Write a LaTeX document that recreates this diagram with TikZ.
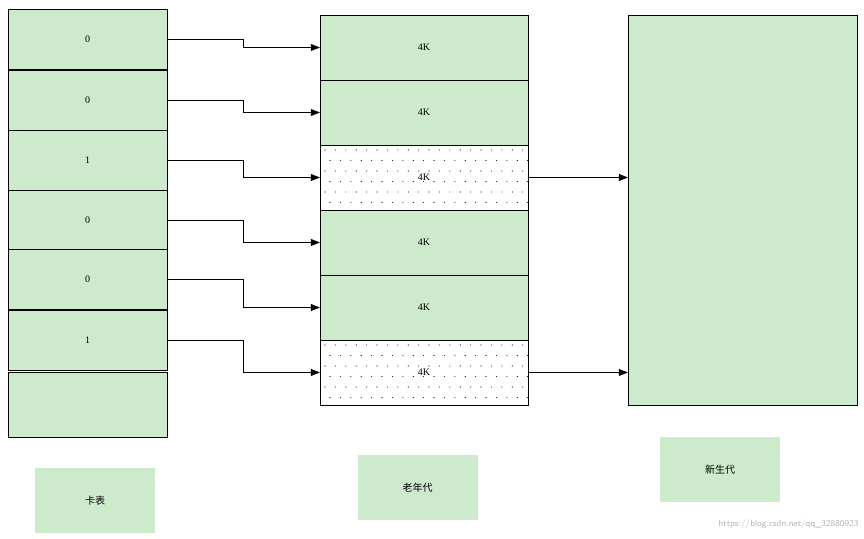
\documentclass[tikz,border=0pt]{standalone}
\usepackage{fontspec}
\setmainfont{Liberation Serif}
\newfontfamily\cjk{Noto Sans CJK SC}
\usetikzlibrary{positioning,arrows.meta}
\definecolor{cardgreen}{HTML}{CDEBCC}

\begin{document}
\begin{tikzpicture}[x=1pt,y=-1pt,
  cell/.style={draw,fill=cardgreen,minimum width=159pt,minimum height=60pt,inner sep=0pt},
  page/.style={draw,fill=cardgreen,minimum width=208pt,minimum height=65pt,inner sep=0pt},
  tag/.style={fill=cardgreen,minimum width=120pt,minimum height=65pt,inner sep=0pt,font=\cjk},
  link/.style={-{Triangle[length=9pt,width=7pt]}}]
\useasboundingbox (0,0) rectangle (864,538);
%================================================================
%	Card table
\node[cell] (c1) at (87.5,39) {0};
\node[cell] (c2) at (87.5,100) {0};
\node[cell] (c3) at (87.5,160) {1};
\node[cell] (c4) at (87.5,220) {0};
\node[cell] (c5) at (87.5,279) {0};
\node[cell] (c6) at (87.5,340) {1};
\node[cell,minimum height=65pt] (c7) at (87.5,404.5) {};
%================================================================
%	Old generation
\foreach \i/\y in {1/47.5,2/112.5,3/177.5,4/242.5,5/307.5,6/372.5}
  \node[page] (o\i) at (424,\y) {};
\foreach \top in {145,340} {
  \fill[white] (320,\top) rectangle (528,\top+65);
  \foreach \dx in {0,...,19}
    \foreach \dy in {0,...,5} {
      \pgfmathsetmacro\px{325+10.4*\dx+5*mod(\dy,2)}
      \pgfmathsetmacro\py{\top+5+10.5*\dy}
      \fill (\px,\py) circle (0.55pt);
    }
  \draw (320,\top) rectangle (528,\top+65);
}
\foreach \i in {1,...,6}
  \node at (o\i) {4K};
%================================================================
%	Young generation
\node[draw,fill=cardgreen,minimum width=229pt,minimum height=390pt,inner sep=0pt] (young) at (742.5,210) {};
%================================================================
%	Links
\foreach \i in {1,...,6}
  \draw[link] (c\i.east) -- ++(76,0) |- (o\i.west);
\draw[link] (o3.east) -- (o3.east -| young.west);
\draw[link] (o6.east) -- (o6.east -| young.west);
%================================================================
%	Captions
\node[tag] (tcard) at (95,500.5) {卡表};
\node[tag] (told) at (417.5,487.5) {老年代};
\node[tag] (tyoung) at (720,469.5) {新生代};
\node[text=gray!60,font=\small\sffamily,anchor=south east] (mark) at (862,532) {https://blog.csdn.net/qq\_32880923};
\end{tikzpicture}
\end{document}
